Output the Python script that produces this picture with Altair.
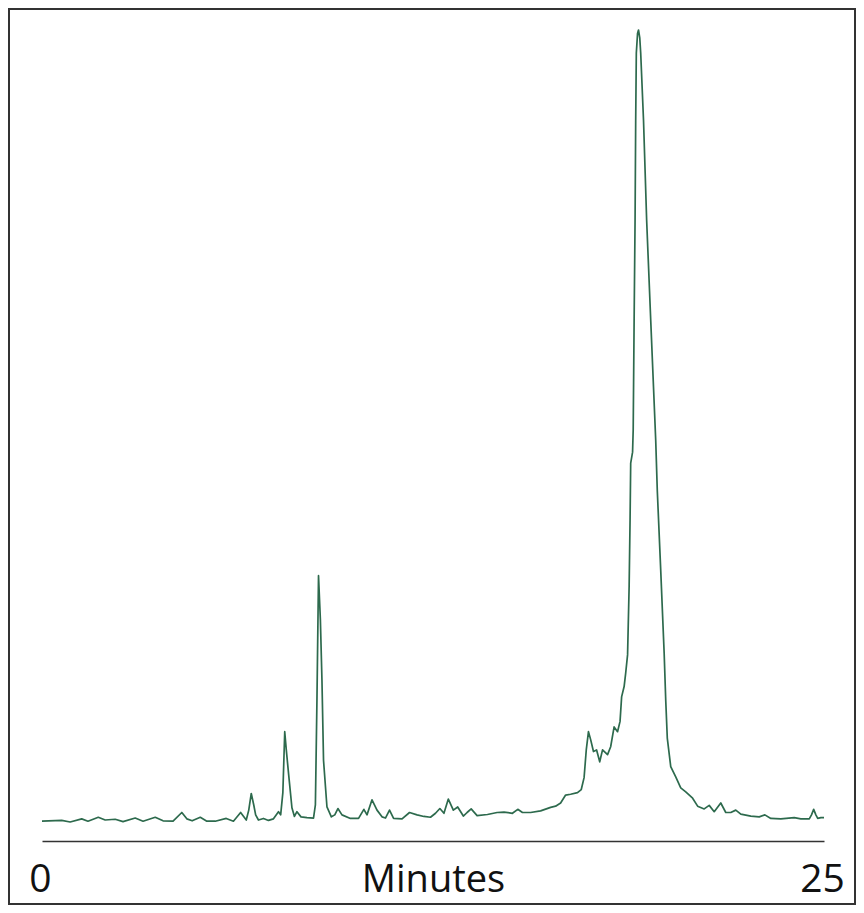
import altair as alt
import pandas as pd

# Retention time (minutes)
minutes = [
    0.00, 0.63, 0.90, 1.27, 1.47, 1.80, 2.02, 2.34, 2.59, 2.98,
    3.23, 3.62, 3.87, 4.19, 4.47, 4.63, 4.80, 5.06, 5.27, 5.54,
    5.89, 6.12, 6.35, 6.53, 6.61, 6.69, 6.77, 6.83, 6.92, 7.08,
    7.24, 7.40, 7.56, 7.63, 7.70, 7.76, 7.81, 7.88, 7.99, 8.07,
    8.15, 8.28, 8.47, 8.68, 8.74, 8.79, 8.84, 8.90, 8.95, 9.00,
    9.11, 9.25, 9.36, 9.46, 9.59, 9.86, 10.12, 10.29, 10.39, 10.55,
    10.71, 10.87, 10.98, 11.11, 11.24, 11.51, 11.75, 11.99, 12.21, 12.42,
    12.58, 12.72, 12.85, 12.99, 13.15, 13.29, 13.47, 13.59, 13.72, 13.91,
    14.24, 14.55, 14.77, 15.04, 15.21, 15.36, 15.62, 15.94, 16.26, 16.42,
    16.58, 16.74, 16.90, 17.12, 17.24, 17.33, 17.40, 17.47, 17.54, 17.63,
    17.73, 17.83, 17.92, 18.08, 18.18, 18.29, 18.40, 18.48, 18.53, 18.61,
    18.66, 18.72, 18.77, 18.80, 18.82, 18.88, 18.90, 18.93, 18.96, 18.98,
    19.00, 19.04, 19.07, 19.11, 19.14, 19.23, 19.33, 19.46, 19.62, 19.67,
    19.78, 19.89, 19.94, 19.99, 20.10, 20.26, 20.42, 20.58, 20.80, 20.96,
    21.17, 21.33, 21.49, 21.70, 21.86, 22.02, 22.18, 22.34, 22.66, 22.93,
    23.11, 23.30, 23.62, 24.05, 24.26, 24.53, 24.60, 24.67, 24.74, 24.80,
    24.90, 25.00,
]

# Detector response (relative, tallest peak = 100)
signal = [
    0.1, 0.2, 0.0, 0.4, 0.1, 0.6, 0.25, 0.35, 0.05, 0.5,
    0.1, 0.6, 0.15, 0.1, 1.2, 0.4, 0.15, 0.6, 0.1, 0.1,
    0.45, 0.1, 1.2, 0.25, 1.5, 3.6, 2.15, 0.9, 0.25, 0.45,
    0.2, 0.4, 1.3, 0.9, 3.7, 11.4, 9.1, 6.2, 1.8, 0.7,
    1.3, 0.65, 0.55, 0.5, 2.15, 15.4, 31.1, 25.5, 17.9, 7.8,
    1.9, 0.65, 0.9, 1.7, 0.9, 0.45, 0.45, 1.6, 0.9, 2.8,
    1.5, 0.65, 0.5, 1.5, 0.45, 0.4, 1.2, 0.9, 0.7, 0.6,
    1.1, 1.7, 1.1, 2.9, 1.5, 1.9, 0.75, 1.2, 1.65, 0.8,
    0.95, 1.2, 1.25, 1.1, 1.6, 1.2, 1.2, 1.4, 1.85, 2.0,
    2.4, 3.4, 3.5, 3.7, 4.1, 5.6, 9.1, 11.4, 10.4, 8.9,
    9.1, 7.6, 9.1, 8.5, 9.5, 12.0, 11.4, 12.7, 15.8, 17.1,
    18.8, 21.1, 29.7, 38.1, 45.3, 46.7, 49.5, 63.4, 76.0, 88.6,
    97.1, 99.6, 100.0, 99.0, 97.1, 88.6, 76.0, 63.4, 48.2, 41.9,
    31.8, 21.3, 15.4, 10.6, 7.0, 5.7, 4.3, 3.8, 3.0, 2.0,
    1.65, 2.1, 1.3, 2.4, 1.2, 1.2, 1.5, 1.0, 0.75, 0.65,
    0.9, 0.45, 0.4, 0.55, 0.4, 0.4, 0.9, 1.6, 0.9, 0.45,
    0.55, 0.55,
]

tick_values = [0, 25]
axis_title = "Minutes"

df = pd.DataFrame({"t": minutes, "v": signal})

FONT = "Open Sans"

chart = (
    alt.Chart(df)
    .mark_line(color="#2d6a4d", strokeWidth=1.7, strokeJoin="round")
    .encode(
        x=alt.X(
            "t:Q",
            scale=alt.Scale(domain=[0, 25], range=[33, 815], nice=False, zero=False),
            axis=alt.Axis(
                values=tick_values,
                format="d",
                title=axis_title,
                grid=False,
                ticks=False,
                tickSize=0,
                offset=-63,
                domainColor="#333333",
                domainWidth=1.6,
                labelFont=FONT,
                labelFontSize=39,
                labelColor="#111111",
                labelBaseline="alphabetic",
                labelPadding=50,
                labelOffset=-2,
                labelFlush=False,
                labelOverlap=False,
                titleFont=FONT,
                titleFontSize=38,
                titleFontWeight="normal",
                titleColor="#111111",
                titleBaseline="alphabetic",
                titleY=50,
            ),
        ),
        y=alt.Y(
            "v:Q",
            scale=alt.Scale(domain=[0, 100], range=[813, 21], nice=False, zero=False),
            axis=None,
        ),
    )
    .properties(
        width=846,
        height=895,
        autosize=alt.AutoSizeParams(type="none"),
        padding={"left": 1, "top": 1, "right": 1, "bottom": 1},
        background="white",
    )
    .configure_view(stroke="#333333", strokeWidth=2)
)

chart.save("out.html", embed_options={"renderer": "svg", "actions": False})
